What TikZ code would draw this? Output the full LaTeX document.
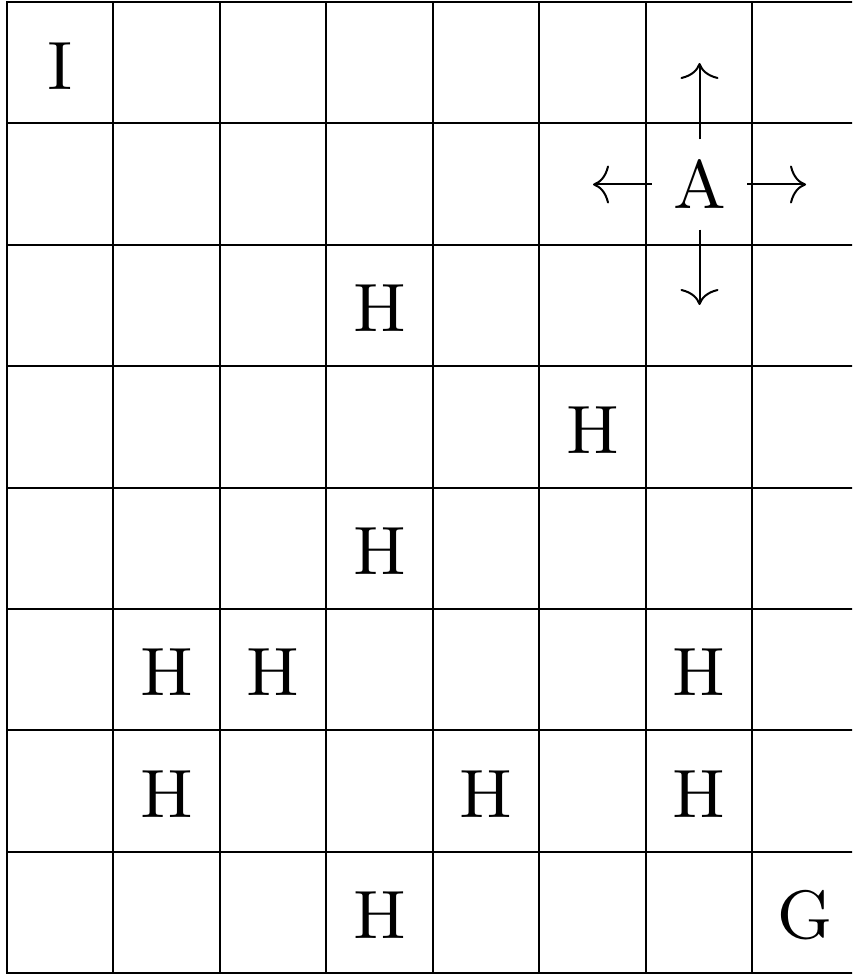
\documentclass[tikz,border=0pt]{standalone}
\usetikzlibrary{arrows.meta}
\newcommand{\bigletter}[1]{\scalebox{7.6}{\fontsize{9}{11}\selectfont #1}}
\begin{document}
\begin{tikzpicture}[x=1pt,y=-1pt,
  gridline/.style={line width=2pt,line cap=rect},
  lbl/.style={inner sep=0pt},
  arr/.style={line width=2pt,-{Computer Modern Rightarrow[length=16pt,width=38pt,line width=2pt]}}]
\useasboundingbox (0,0) rectangle (852,976);
\begin{scope}
\clip (0,0) rectangle (852,976);
\foreach \i in {0,...,8} {
  \draw[gridline] ({7+106.43*\i},2) -- ({7+106.43*\i},973);
}
\foreach \j in {0,...,8} {
  \draw[gridline] (7,{2+121.375*\j}) -- (870,{2+121.375*\j});
}
\end{scope}
\node[lbl] (nI) at (60.2,65.7) {\bigletter{I}};
\node[lbl] (h1) at (379.7,308.4) {\bigletter{H}};
\node[lbl] (h2) at (592.5,429.8) {\bigletter{H}};
\node[lbl] (h3) at (379.7,551.2) {\bigletter{H}};
\node[lbl] (h4) at (166.6,672.6) {\bigletter{H}};
\node[lbl] (h5) at (273.1,672.6) {\bigletter{H}};
\node[lbl] (h6) at (699.0,672.6) {\bigletter{H}};
\node[lbl] (h7) at (166.6,793.9) {\bigletter{H}};
\node[lbl] (h8) at (486.0,793.9) {\bigletter{H}};
\node[lbl] (h9) at (699.0,793.9) {\bigletter{H}};
\node[lbl] (h10) at (379.7,915.3) {\bigletter{H}};
\node[lbl] (nG) at (805.4,915.3) {\bigletter{G}};
\node[lbl,minimum width=95pt,minimum height=90pt] (nA) at (699.5,184.5) {\bigletter{A}};
\coordinate (upend) at (699.5,63);
\coordinate (downend) at (699.5,305);
\coordinate (leftend) at (593,184.5);
\coordinate (rightend) at (806,184.5);
\draw[arr] (nA.north) -- (upend);
\draw[arr] (nA.south) -- (downend);
\draw[arr] (nA.west) -- (leftend);
\draw[arr] (nA.east) -- (rightend);
\end{tikzpicture}
\end{document}
